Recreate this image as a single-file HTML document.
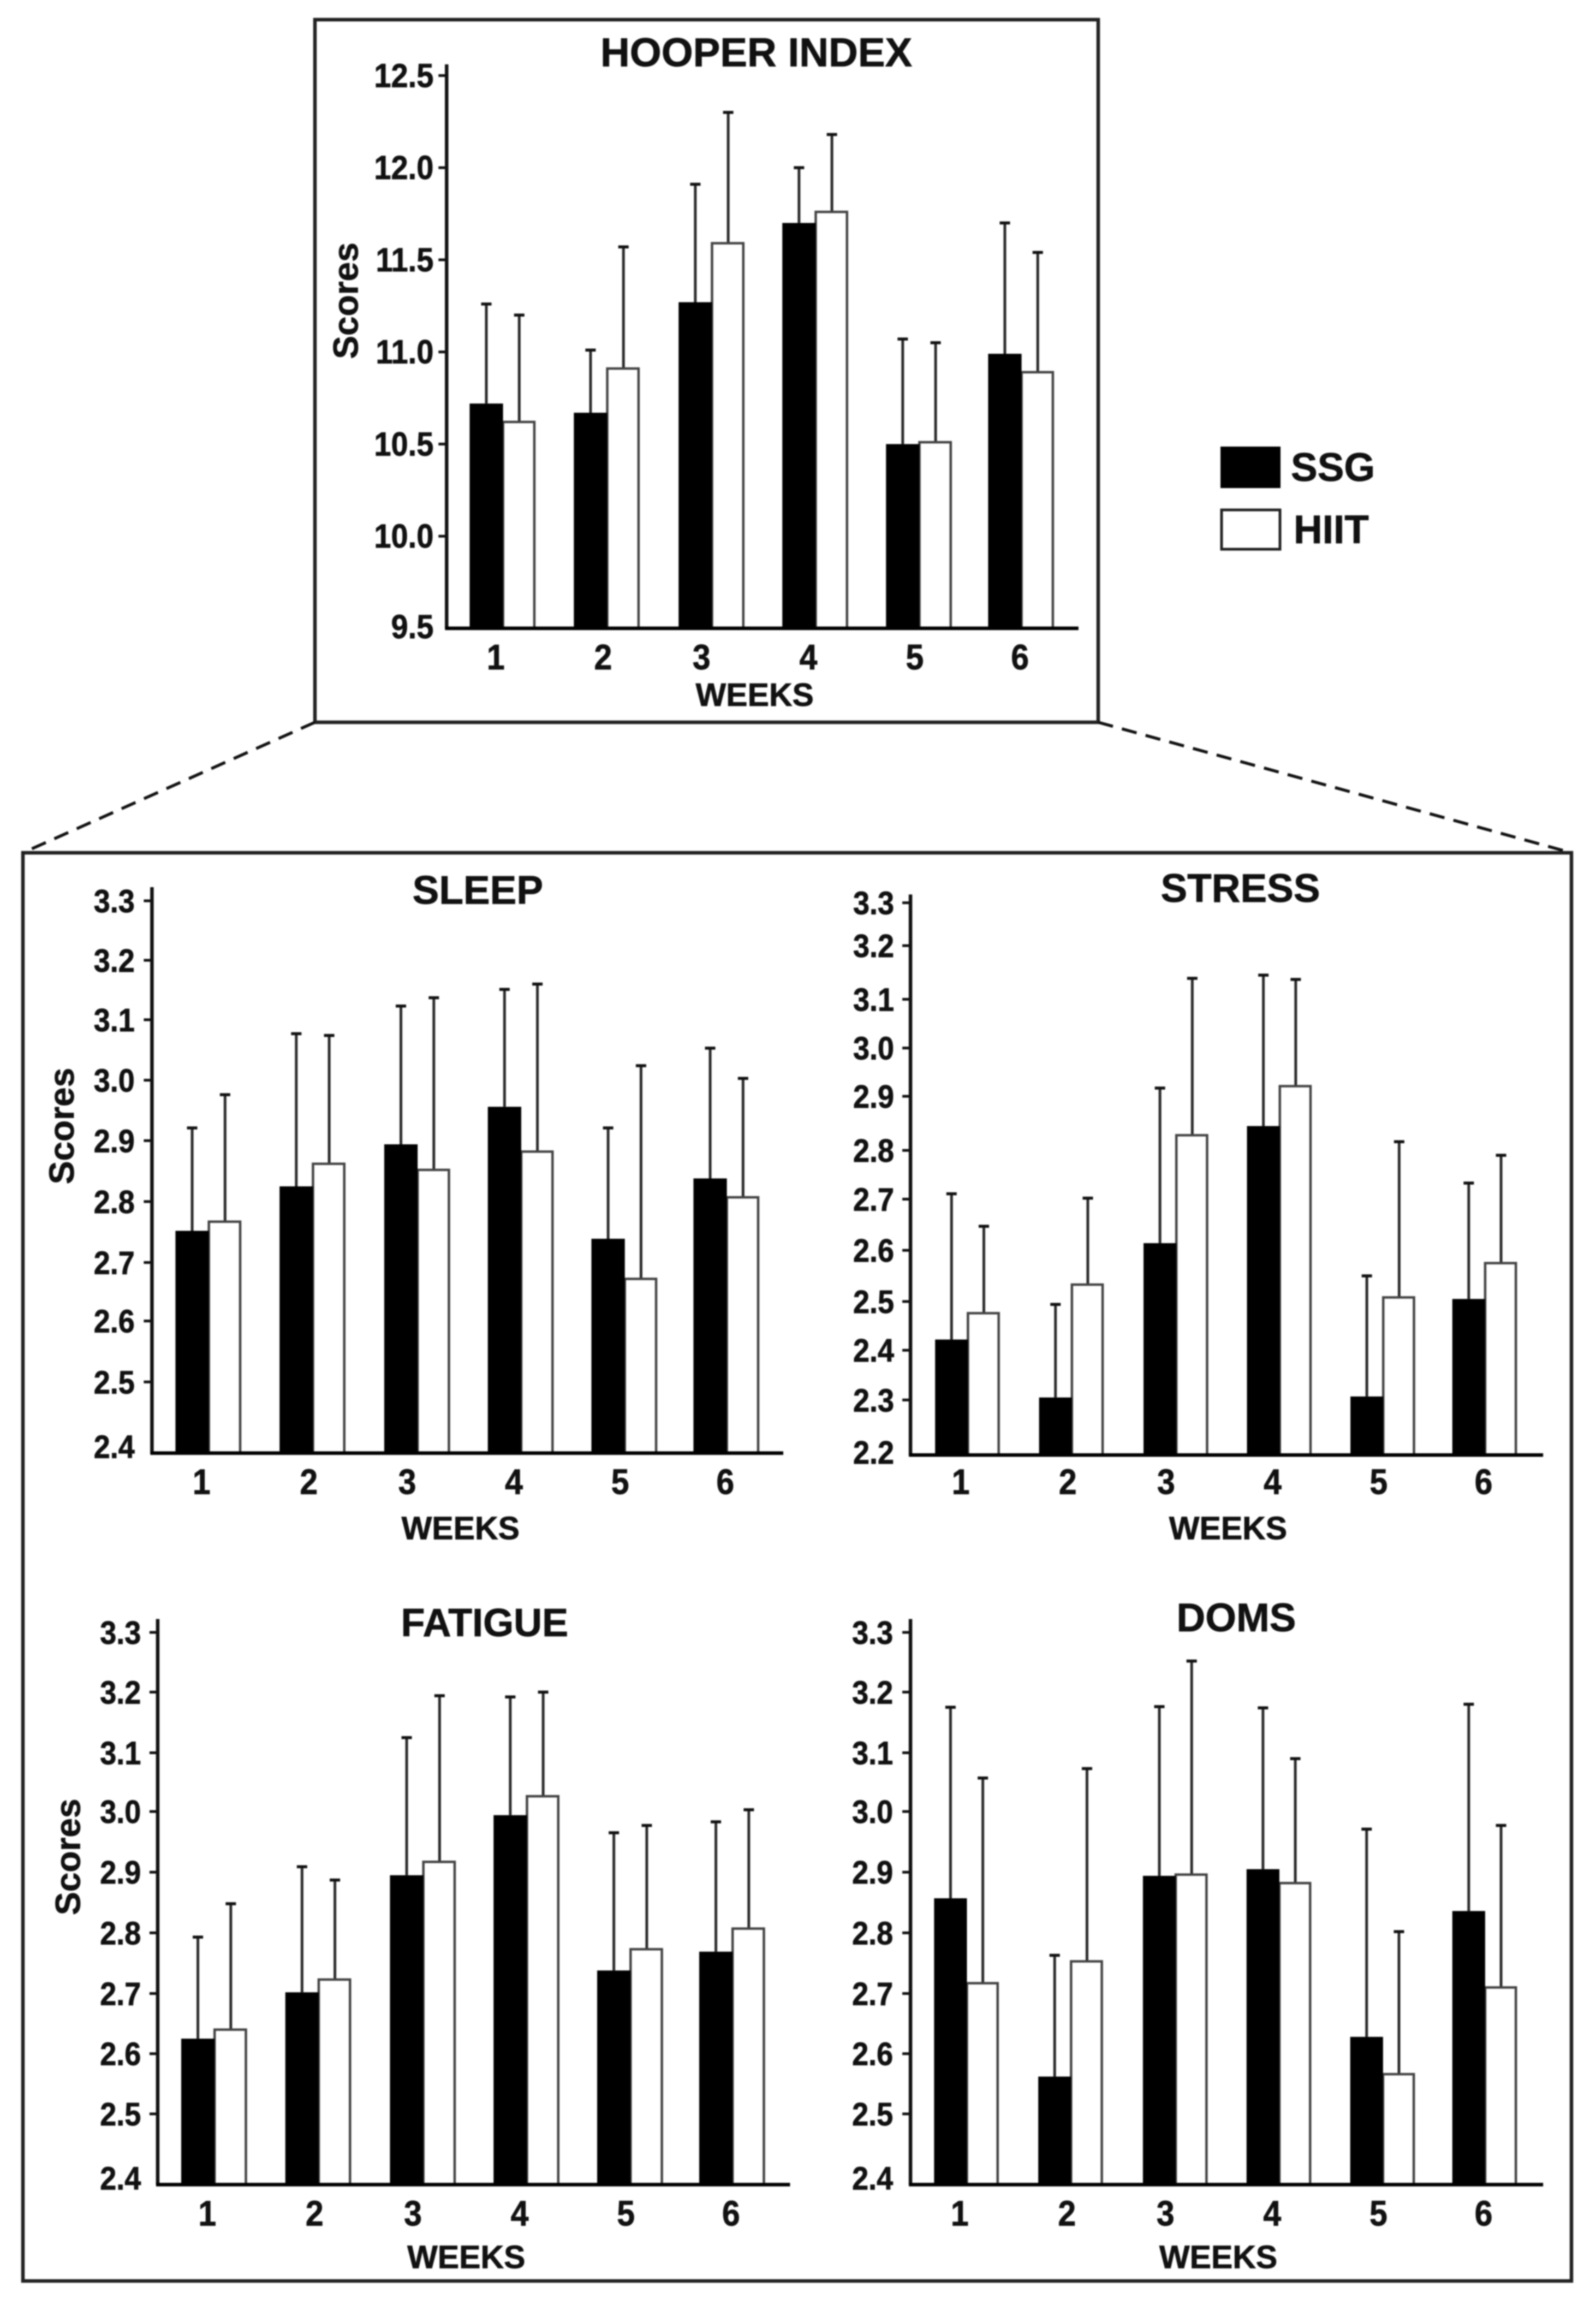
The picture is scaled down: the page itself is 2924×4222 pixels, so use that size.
<!DOCTYPE html>
<html lang="en">
<head>
<meta charset="utf-8">
<title>Hooper index by week</title>
<style>
html,body{margin:0;padding:0;background:#fff;}
body{width:2924px;height:4222px;overflow:hidden;}
svg{display:block;filter:blur(1.2px);}
text{font-family:"Liberation Sans",Arial,sans-serif;font-weight:bold;fill:#111;stroke:#111;stroke-width:0.8px;}
</style>
</head>
<body>
<svg id="figure" xmlns="http://www.w3.org/2000/svg" width="2924" height="4222" viewBox="0 0 2924 4222">
  <rect x="0" y="0" width="2924" height="4222" fill="#fff"/>
  <rect x="577" y="36" width="1435" height="1287" fill="none" stroke="#222" stroke-width="6.5"/>
  <rect x="42" y="1562" width="2837" height="2616" fill="none" stroke="#222" stroke-width="6.5"/>
  <line x1="577" y1="1323" x2="42" y2="1562" stroke="#111" stroke-width="5.5" stroke-dasharray="28 17"/>
  <line x1="2012" y1="1323" x2="2879" y2="1562" stroke="#111" stroke-width="5.5" stroke-dasharray="28 17"/>
  <g>
    <rect x="2236" y="818" width="110" height="76" fill="#000"/>
    <text x="2365" y="881" font-size="73">SSG</text>
    <rect x="2238" y="934" width="107" height="72" fill="#fff" stroke="#222" stroke-width="5"/>
    <text x="2370" y="995" font-size="73">HIIT</text>
  </g>
</svg>
<script>
// ---------- chart data ----------
const weeks = ["1", "2", "3", "4", "5", "6"];

const hooperTicks = ["12.5", "12.0", "11.5", "11.0", "10.5", "10.0", "9.5"];
const hooperSSG = [10.72, 10.67, 11.27, 11.70, 10.50, 10.99];
const hooperHIIT = [10.62, 10.91, 11.59, 11.76, 10.51, 10.89];
const hooperSSGUpper = [11.26, 11.01, 11.91, 12.00, 11.07, 11.70];
const hooperHIITUpper = [11.20, 11.57, 12.30, 12.18, 11.05, 11.54];

const sleepTicks = ["3.3", "3.2", "3.1", "3.0", "2.9", "2.8", "2.7", "2.6", "2.5", "2.4"];
const sleepSSG = [2.752, 2.825, 2.894, 2.956, 2.739, 2.838];
const sleepHIIT = [2.767, 2.862, 2.852, 2.882, 2.672, 2.807];
const sleepSSGUpper = [2.921, 3.077, 3.123, 3.151, 2.921, 3.053];
const sleepHIITUpper = [2.976, 3.074, 3.137, 3.160, 3.024, 3.003];

const stressTicks = ["3.3", "3.2", "3.1", "3.0", "2.9", "2.8", "2.7", "2.6", "2.5", "2.4", "2.3", "2.2"];
const stressSSG = [2.422, 2.305, 2.614, 2.845, 2.307, 2.505];
const stressHIIT = [2.476, 2.533, 2.828, 2.921, 2.508, 2.575];
const stressSSGUpper = [2.711, 2.494, 2.917, 3.145, 2.550, 2.733];
const stressHIITUpper = [2.647, 2.702, 3.139, 3.137, 2.816, 2.790];

const fatigueTicks = ["3.3", "3.2", "3.1", "3.0", "2.9", "2.8", "2.7", "2.6", "2.5", "2.4"];
const fatigueSSG = [2.625, 2.702, 2.895, 2.994, 2.738, 2.769];
const fatigueHIIT = [2.640, 2.723, 2.917, 3.026, 2.773, 2.807];
const fatigueSSGUpper = [2.793, 2.909, 3.125, 3.192, 2.965, 2.983];
const fatigueHIITUpper = [2.848, 2.887, 3.194, 3.200, 2.977, 3.003];

const domsTicks = ["3.3", "3.2", "3.1", "3.0", "2.9", "2.8", "2.7", "2.6", "2.5", "2.4"];
const domsSSG = [2.857, 2.562, 2.894, 2.905, 2.628, 2.836];
const domsHIIT = [2.717, 2.753, 2.896, 2.882, 2.566, 2.710];
const domsSSGUpper = [3.175, 2.763, 3.176, 3.174, 2.971, 3.180];
const domsHIITUpper = [3.057, 3.073, 3.252, 3.090, 2.802, 2.977];

// ---------- layout (axis geometry only) ----------
const BAND_NUDGE = [0, 1, 3, 3, 3, 0];
const LABEL_DX = [-14, -8, -20, -14, -9, -3];
const SSG_W = 64, HIIT_W = 62;

const panels = [
  {key:"hooper", title:"HOOPER INDEX", titleSize:74.5, tickSize:56, lastTickLift:3, ticks:hooperTicks, ssg:hooperSSG, hiit:hooperHIIT, ssgUp:hooperSSGUpper, hiitUp:hooperHIITUpper,
   ox:560, oy:0, sx:1.0453, sy:1.12, axisX:270, top:132, base:1289, right:1480,
   stops:[155,344,533,722,911,1100,1289], bandStart:378, bandStep:198.6, tickRight:245, tickLabelY:1373,
   titleX:863, titleY:136, weeksX:860, weeksY:1448, scoresX:100, scoresY:617},
  {key:"sleep", title:"SLEEP", titleSize:73, tickSize:54, lastTickLift:12, ticks:sleepTicks, ssg:sleepSSG, hiit:sleepHIIT, ssgUp:sleepSSGUpper, hiitUp:sleepHIITUpper,
   ox:0, oy:1500, sx:1.0453, sy:1.12, axisX:291, top:140, base:1301, right:1500,
   stops:[168,290,412,536,660,785,910,1030,1155,1301], bandStart:400, bandStep:198.4, tickRight:258, tickLabelY:1385,
   titleX:915, titleY:174, weeksX:882, weeksY:1478, scoresX:141, scoresY:630},
  {key:"stress", title:"STRESS", titleSize:73, tickSize:54, lastTickLift:5, ticks:stressTicks, ssg:stressSSG, hiit:stressHIIT, ssgUp:stressSSGUpper, hiitUp:stressHIITUpper,
   ox:1450, oy:1500, sx:1.0638, sy:1.12, axisX:232, top:155, base:1305, right:1465,
   stops:[172,260,370,470,569,680,780,885,990,1090,1192,1305], bandStart:344, bandStep:201.6, tickRight:200, tickLabelY:1385,
   titleX:875, titleY:170, weeksX:851, weeksY:1478, scoresX:null, scoresY:0},
  {key:"fatigue", title:"FATIGUE", titleSize:72, tickSize:54, lastTickLift:12, ticks:fatigueTicks, ssg:fatigueSSG, hiit:fatigueHIIT, ssgUp:fatigueSSGUpper, hiitUp:fatigueHIITUpper,
   ox:0, oy:2850, sx:1.0453, sy:1.1429, axisX:302, top:132, base:1316, right:1513,
   stops:[160,285,412,535,662,789,916,1042,1168,1316], bandStart:411, bandStep:198.4, tickRight:270, tickLabelY:1402,
   titleX:928, titleY:168, weeksX:893, weeksY:1491, scoresX:153, scoresY:630},
  {key:"doms", title:"DOMS", titleSize:73, tickSize:54, lastTickLift:12, ticks:domsTicks, ssg:domsSSG, hiit:domsHIIT, ssgUp:domsSSGUpper, hiitUp:domsHIITUpper,
   ox:1450, oy:2850, sx:1.0638, sy:1.1429, axisX:232, top:132, base:1316, right:1465,
   stops:[160,285,412,535,662,789,916,1042,1168,1316], bandStart:342, bandStep:202, tickRight:198, tickLabelY:1402,
   titleX:867, titleY:158, weeksX:832, weeksY:1491, scoresX:null, scoresY:0}
];

const SVGNS = "http://www.w3.org/2000/svg";
const figure = document.getElementById("figure");

function make(parent, tag, attrs, txt) {
  const node = document.createElementNS(SVGNS, tag);
  for (const k in attrs) node.setAttribute(k, attrs[k]);
  if (txt !== undefined) node.textContent = txt;
  parent.appendChild(node);
  return node;
}

function drawPanel(p) {
  const X = z => p.ox + z / p.sx;
  const Y = z => p.oy + z / p.sy;
  const tickVals = p.ticks.map(Number);

  // piecewise value axis (the printed axis is not evenly spaced)
  function yAxis(v) {
    let i = 0;
    while (i < tickVals.length - 2 && v < tickVals[i + 1]) i++;
    const t = (tickVals[i] - v) / (tickVals[i] - tickVals[i + 1]);
    return Y(p.stops[i] + t * (p.stops[i + 1] - p.stops[i]));
  }
  // category axis: boundary between the SSG and HIIT bars of a week
  const xAxis = i => p.bandStart + p.bandStep * i + BAND_NUDGE[i];

  const g = make(figure, "g", {});
  
  

  const baseY = Y(p.base);
  const capW = 19, errW = 5;

  weeks.forEach((wk, i) => {
    const sL = X(xAxis(i) - SSG_W), sR = X(xAxis(i)), hR = X(xAxis(i) + HIIT_W);
    const sC = (sL + sR) / 2, hC = (sR + hR) / 2;

    const eS = make(g, "line", {x1:sC, x2:sC, y1:yAxis(p.ssg[i]), y2:yAxis(p.ssgUp[i]), stroke:"#2a2a2a", "stroke-width":errW});
    
    
    const cS = make(g, "line", {x1:sC - capW / 2, x2:sC + capW / 2, y1:yAxis(p.ssgUp[i]), y2:yAxis(p.ssgUp[i]), stroke:"#111", "stroke-width":5.5});
    
    

    const eH = make(g, "line", {x1:hC, x2:hC, y1:yAxis(p.hiit[i]), y2:yAxis(p.hiitUp[i]), stroke:"#2a2a2a", "stroke-width":errW});
    
    
    const cH = make(g, "line", {x1:hC - capW / 2, x2:hC + capW / 2, y1:yAxis(p.hiitUp[i]), y2:yAxis(p.hiitUp[i]), stroke:"#111", "stroke-width":5.5});
    
    

    const bH = make(g, "rect", {x:sR, y:yAxis(p.hiit[i]), width:hR - sR - 2, height:baseY - yAxis(p.hiit[i]), fill:"#fff", stroke:"#444", "stroke-width":4.5});
    
    
    const bS = make(g, "rect", {x:sL, y:yAxis(p.ssg[i]), width:sR - sL, height:baseY - yAxis(p.ssg[i]), fill:"#000"});
    
    

    const lx = X(xAxis(i) + LABEL_DX[i]), ly = Y(p.tickLabelY);
    const wl = make(g, "text", {transform:"translate(" + lx + "," + ly + ") scale(1,1.1)", "text-anchor":"middle", "font-size":59}, wk);
    
    
  });

  // axes
  const yLine = make(g, "line", {x1:X(p.axisX), x2:X(p.axisX), y1:Y(p.top), y2:baseY, stroke:"#111", "stroke-width":6.5});
  
  
  const xLine = make(g, "line", {x1:X(p.axisX) - 3, x2:X(p.right), y1:baseY, y2:baseY, stroke:"#000", "stroke-width":6.5});
  
  

  p.ticks.forEach((label, i) => {
    const ty = yAxis(tickVals[i]);
    const isLast = i === p.ticks.length - 1;
    if (!isLast) {
      const tm = make(g, "line", {x1:X(p.axisX) - 15, x2:X(p.axisX), y1:ty, y2:ty, stroke:"#111", "stroke-width":5});
      
      
    }
    const labelY = ty + 21 - (isLast ? p.lastTickLift : 0);
    const tl = make(g, "text", {transform:"translate(" + X(p.tickRight) + "," + labelY + ") scale(1,1.1)", "text-anchor":"end", "font-size":p.tickSize}, label);
    
    
  });

  const title = make(g, "text", {x:X(p.titleX), y:Y(p.titleY), "text-anchor":"middle", "font-size":p.titleSize}, p.title);
  
  

  const wt = make(g, "text", {x:X(p.weeksX), y:Y(p.weeksY), "text-anchor":"middle", "font-size":59}, "WEEKS");
  
  

  if (p.scoresX !== null) {
    const st = make(g, "text", {transform:"translate(" + X(p.scoresX) + "," + Y(p.scoresY) + ") rotate(-90)", "text-anchor":"middle", "font-size":64}, "Scores");
    
    
  }
}

panels.forEach(drawPanel);
</script>
</body>
</html>
